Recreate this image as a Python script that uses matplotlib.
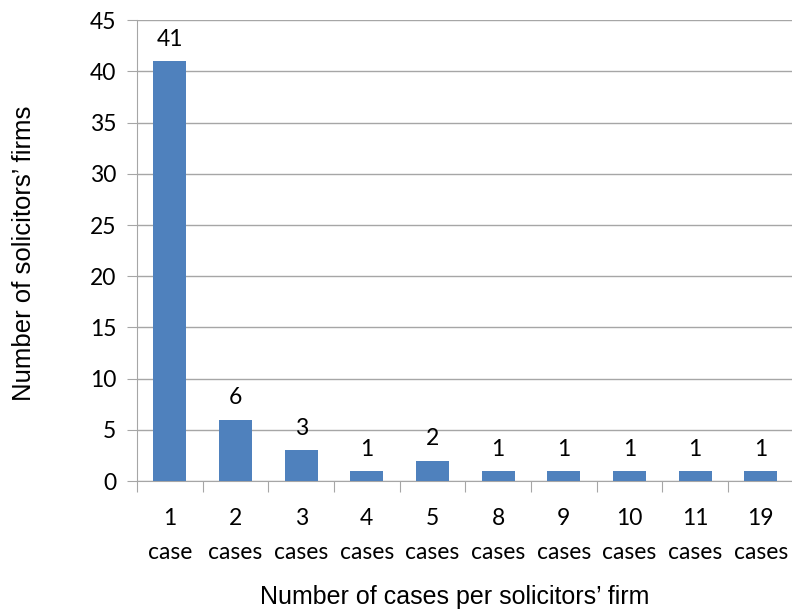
import matplotlib
matplotlib.use("Agg")
import matplotlib.pyplot as plt
import numpy as np

categories = ["1\ncase", "2\ncases", "3\ncases", "4\ncases", "5\ncases",
              "8\ncases", "9\ncases", "10\ncases", "11\ncases", "19\ncases"]
firms = [41, 6, 3, 1, 2, 1, 1, 1, 1, 1]
yticks = [0, 5, 10, 15, 20, 25, 30, 35, 40, 45]

fig = plt.figure(figsize=(7.92, 6.12), dpi=100)
ax = fig.add_axes([0.173, 0.214, 0.829, 0.753])

x = np.arange(len(firms))
ax.bar(x, firms, width=0.5, color="#4F81BD", zorder=3)
for xi, v in zip(x, firms):
    ax.annotate(str(v), (xi, v), xytext=(0, 8), textcoords="offset points",
                ha="center", va="bottom", fontsize=16.5, family="Lato")

ax.set_xlim(-0.5, len(firms) - 0.5)
ax.set_ylim(0, 45)
ax.set_yticks(yticks)
ax.yaxis.grid(True, color="#A6A6A6", lw=1, zorder=0)
ax.tick_params(axis="y", length=7, color="#A6A6A6", labelsize=16.5, pad=8)
for lab in ax.get_yticklabels():
    lab.set_family("Lato")

# category boundaries carry the ticks, labels sit at the centres
ax.set_xticks(np.arange(len(firms) + 1) - 0.5)
ax.set_xticklabels([])
ax.tick_params(axis="x", length=8, color="#A6A6A6")
for xi, lab in zip(x, categories):
    ax.text(xi, -0.058, lab, transform=ax.get_xaxis_transform(),
            ha="center", va="top", fontsize=16.5, family="Lato", linespacing=1.8)

for side in ["top", "right"]:
    ax.spines[side].set_visible(False)
for side in ["left", "bottom"]:
    ax.spines[side].set_color("#A6A6A6")

fig.text(455 / 792, 1 - 597 / 612, "Number of cases per solicitors\u2019 firm",
         ha="center", va="center", fontsize=18, family="Liberation Sans")
fig.text(24 / 792, 1 - 253 / 612, "Number of solicitors\u2019 firms", rotation=90,
         ha="center", va="center", fontsize=18.5, family="Liberation Sans")

fig.savefig("out.png", dpi=100)
